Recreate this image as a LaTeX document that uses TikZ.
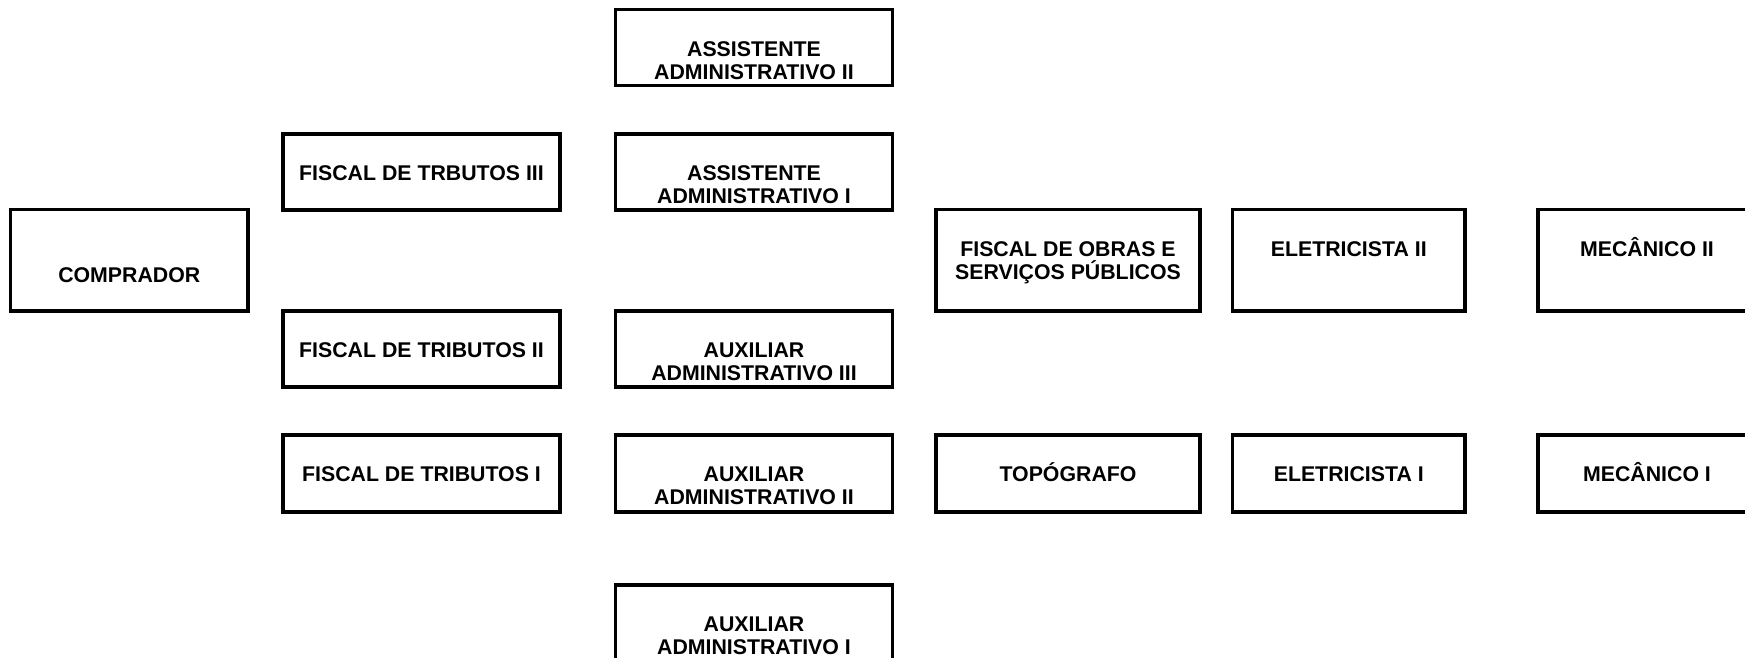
\documentclass[tikz,border=0pt]{standalone}
\usepackage{fontspec}
\setmainfont{Liberation Sans}
\usetikzlibrary{calc}
\tikzset{
  cargobox/.style={draw=black, line width=1.6pt, fill=white, rectangle, inner sep=0pt, outer sep=0pt},
  cargotxt/.style={anchor=north, inner sep=0pt, outer sep=0pt, align=center, font=\bfseries\fontsize{10.65}{11.5}\selectfont},
}
\newcommand\cargo[7][46.7]{%
  \node[cargobox, minimum width={(#5-#3)*0.5pt}, minimum height={(#6-#4)*0.5pt}] (#2) at ({(#3+#5)/2},{(#4+#6)/2}) {};
  \node[cargotxt] (#2-t) at ($(#2.north)+(0,{#1-22})$) {\rule{0pt}{11pt}#7};
}
\begin{document}
\begin{tikzpicture}[x=0.5pt,y=-0.5pt]
\useasboundingbox (0,0) rectangle (1745,658);
\clip (0,0) rectangle (1745,658);
\fill[white] (0,0) rectangle (1745,658);
\cargo{aa2}{615.5}{9.5}{892.5}{85.5}{ASSISTENTE\\ADMINISTRATIVO II}
\cargo{ft3}{283}{134}{560}{210}{FISCAL DE TRBUTOS III}
\cargo{aa1}{615.5}{134}{892.5}{210}{ASSISTENTE\\ADMINISTRATIVO I}
\cargo[72.5]{comp}{10.5}{209.5}{248}{311}{COMPRADOR}
\cargo{fo}{936}{209.5}{1200}{311}{FISCAL DE OBRAS E\\SERVIÇOS PÚBLICOS}
\cargo{e2}{1232.5}{209.5}{1465}{311}{ELETRICISTA II}
\cargo{m2}{1538}{209.5}{1756}{311}{MECÂNICO II}
\cargo{ft2}{283}{311}{560}{387}{FISCAL DE TRIBUTOS II}
\cargo{ax3}{615.5}{311}{892.5}{387}{AUXILIAR\\ADMINISTRATIVO III}
\cargo{ft1}{283}{435}{560}{512}{FISCAL DE TRIBUTOS I}
\cargo{ax2}{615.5}{435}{892.5}{512}{AUXILIAR\\ADMINISTRATIVO II}
\cargo{topo}{936}{435}{1200}{512}{TOPÓGRAFO}
\cargo{e1}{1232.5}{435}{1465}{512}{ELETRICISTA I}
\cargo{m1}{1538}{435}{1756}{512}{MECÂNICO I}
\cargo{ax1}{615.5}{585}{892.5}{665}{AUXILIAR\\ADMINISTRATIVO I}
\end{tikzpicture}
\end{document}
